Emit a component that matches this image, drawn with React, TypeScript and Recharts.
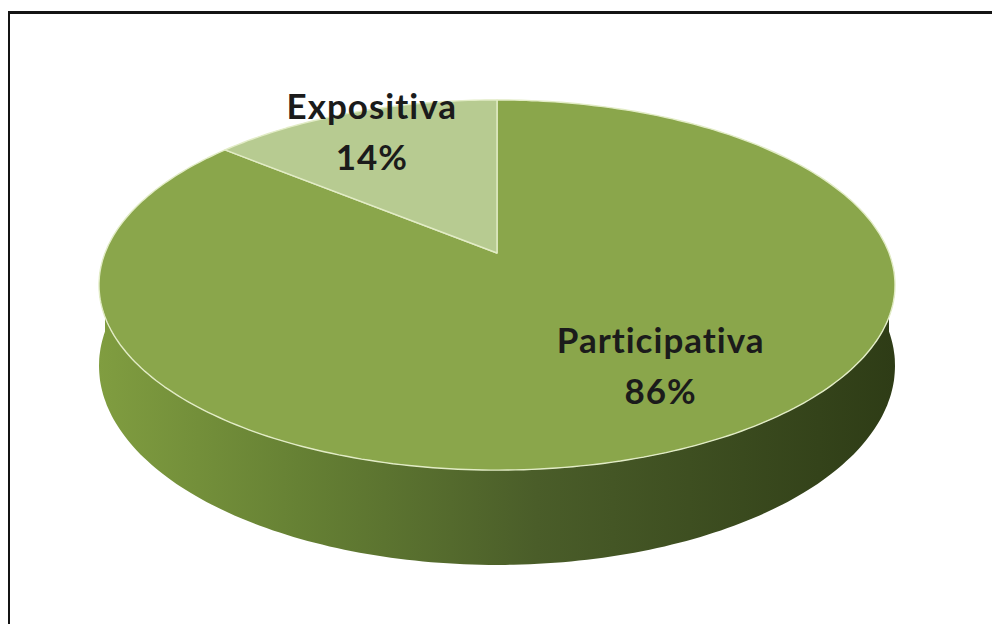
import { PieChart, Pie, Cell } from "recharts";

const categories = ["Participativa", "Expositiva"];
const shares = [86, 14];
const sliceColors = ["#8aa64b", "#b7cb91"];

const data = categories.map((name, i) => ({ name, value: shares[i] }));

// fake 3D: tilt + a bit of perspective, all relative to the pie radius
const TILT = 0.458;
const PERSP = 0.173;
const DEPTH = 0.2;

const project = (cx: number, cy: number, r: number, deg: number, k: number, h: number) => {
  const t = (deg * Math.PI) / 180;
  const u = Math.cos(t) * k;
  const v = Math.sin(t) * k;
  const w = 1 + PERSP * v;
  return [cx + (r * u) / w, cy - (r * TILT * v) / w + (r * DEPTH * h) / w];
};

const arcPoints = (cx: number, cy: number, r: number, a: number, b: number, h: number) => {
  const n = Math.max(2, Math.ceil(Math.abs(b - a)));
  const pts: number[][] = [];
  for (let i = 0; i <= n; i++) pts.push(project(cx, cy, r, a + ((b - a) * i) / n, 1, h));
  return pts;
};

const toPath = (pts: number[][]) =>
  pts.map((p, i) => `${i ? "L" : "M"}${p[0].toFixed(1)},${p[1].toFixed(1)}`).join("");

const renderSlice = (props: any) => {
  const { cx, cy, outerRadius, startAngle, endAngle, midAngle, index, name, percent } = props;
  const lo = Math.min(startAngle, endAngle);
  const hi = Math.max(startAngle, endAngle);

  // visible outer wall = part of the slice lying on the front half
  const walls: string[] = [];
  for (let k = -1; k <= 1; k++) {
    const a = Math.max(lo, -180 + 360 * k);
    const b = Math.min(hi, 360 * k);
    if (b > a) {
      const top = arcPoints(cx, cy, outerRadius, a, b, 0);
      const bottom = arcPoints(cx, cy, outerRadius, b, a, 1);
      walls.push(toPath([...top, ...bottom]) + "Z");
    }
  }

  const face = toPath([[cx, cy], ...arcPoints(cx, cy, outerRadius, startAngle, endAngle, 0)]) + "Z";

  const t = (midAngle * Math.PI) / 180;
  const k = 0.85;
  const v = Math.sin(t) * k;
  const lx = cx + (outerRadius * Math.cos(t) * k) / (1 + PERSP * v);
  const ly = cy - outerRadius * TILT * v * 0.85;

  return (
    <g key={`slice-${index}`}>
      {index === 0 && (
        <defs>
          <linearGradient id="sideFill" x1="0" y1="0" x2="1" y2="0">
            <stop offset="0%" stopColor="#809d40" />
            <stop offset="25%" stopColor="#668134" />
            <stop offset="55%" stopColor="#4a5d29" />
            <stop offset="100%" stopColor="#2e3c16" />
          </linearGradient>
        </defs>
      )}
      {walls.map((d, i) => (
        <path key={i} d={d} fill="url(#sideFill)" stroke="none" />
      ))}
      <path d={face} fill={sliceColors[index]} stroke="#e2ecc6" strokeWidth={1.4} strokeLinejoin="round" />
      <text
        x={lx}
        y={ly}
        textAnchor="middle"
        fontFamily="Lato, 'Open Sans', sans-serif"
        fontWeight="bold"
        fontSize={35}
        letterSpacing={1}
        fill="#1b1b1b"
      >
        <tspan x={lx} dy={-17}>{name}</tspan>
        <tspan x={lx} dy={51}>{`${Math.round(percent * 100)}%`}</tspan>
      </text>
    </g>
  );
};

export default function App() {
  return (
    <div style={{ position: "relative", margin: -8, width: 1000, height: 632, overflow: "hidden", background: "#fff" }}>
      <div
        style={{
          position: "absolute",
          left: 7,
          top: 11,
          right: 0,
          bottom: 0,
          borderTop: "3px solid #141414",
          borderLeft: "3px solid #141414",
        }}
      />
      <div style={{ position: "absolute", left: 0, top: 0 }}>
        <PieChart width={1000} height={632} margin={{ top: 0, right: 0, bottom: 0, left: 0 }}>
          <Pie
            data={data}
            dataKey="value"
            nameKey="name"
            cx={497}
            cy={253}
            outerRadius={392}
            startAngle={90}
            endAngle={-270}
            stroke="none"
            labelLine={false}
            label={renderSlice}
            isAnimationActive={false}
          >
            {data.map((d) => (
              <Cell key={d.name} fill="transparent" />
            ))}
          </Pie>
        </PieChart>
      </div>
    </div>
  );
}
